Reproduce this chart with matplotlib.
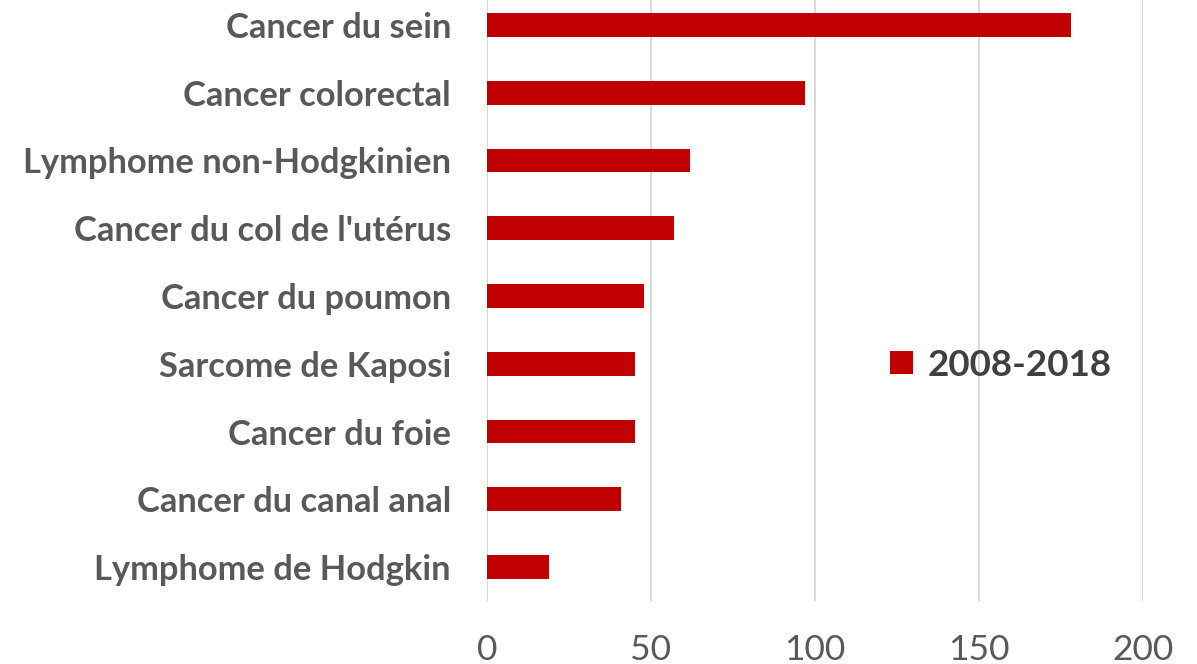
import matplotlib.pyplot as plt
import numpy as np

# data (top to bottom)
categories = ["Cancer du sein", "Cancer colorectal", "Lymphome non-Hodgkinien",
              "Cancer du col de l'utérus", "Cancer du poumon", "Sarcome de Kaposi",
              "Cancer du foie", "Cancer du canal anal", "Lymphome de Hodgkin"]
values = [178, 97, 62, 57, 48, 45, 45, 41, 19]
series_name = "2008-2018"
xticks = [0, 50, 100, 150, 200]

plt.rcParams['font.family'] = ['Lato', 'DejaVu Sans']

fig = plt.figure(figsize=(11.97, 6.64), dpi=100)
ax = fig.add_axes([487 / 1197, 63 / 664, 656 / 1197, 610 / 664])

y = np.arange(len(categories))
ax.barh(y, values, height=0.35, color="#c00000", label=series_name, zorder=3)

ax.set_ylim(len(categories) - 0.5, -0.5)
ax.set_xlim(0, 200)
ax.set_xticks(xticks)
ax.set_yticks(y)
ax.set_yticklabels(categories, fontsize=24.8, fontweight="bold", color="#595959")
ax.tick_params(axis="y", length=0, pad=26)
ax.tick_params(axis="x", length=0, pad=24, labelsize=25.5, labelcolor="#595959")

ax.grid(axis="x", color="#d9d9d9", linewidth=1.5, zorder=0)
for s in ax.spines.values():
    s.set_visible(False)

# legend sits in the right half of the plot, level with Kaposi
leg = ax.legend(loc="center left", bbox_to_anchor=(890 / 1197, (664 - 365) / 664),
                bbox_transform=fig.transFigure, frameon=False,
                prop={"size": 26.5, "weight": "bold"},
                handlelength=0.62, handleheight=0.62, handletextpad=0.4,
                borderpad=0, borderaxespad=0)
for t in leg.get_texts():
    t.set_color("#404040")

fig.savefig("out.png", dpi=100)
